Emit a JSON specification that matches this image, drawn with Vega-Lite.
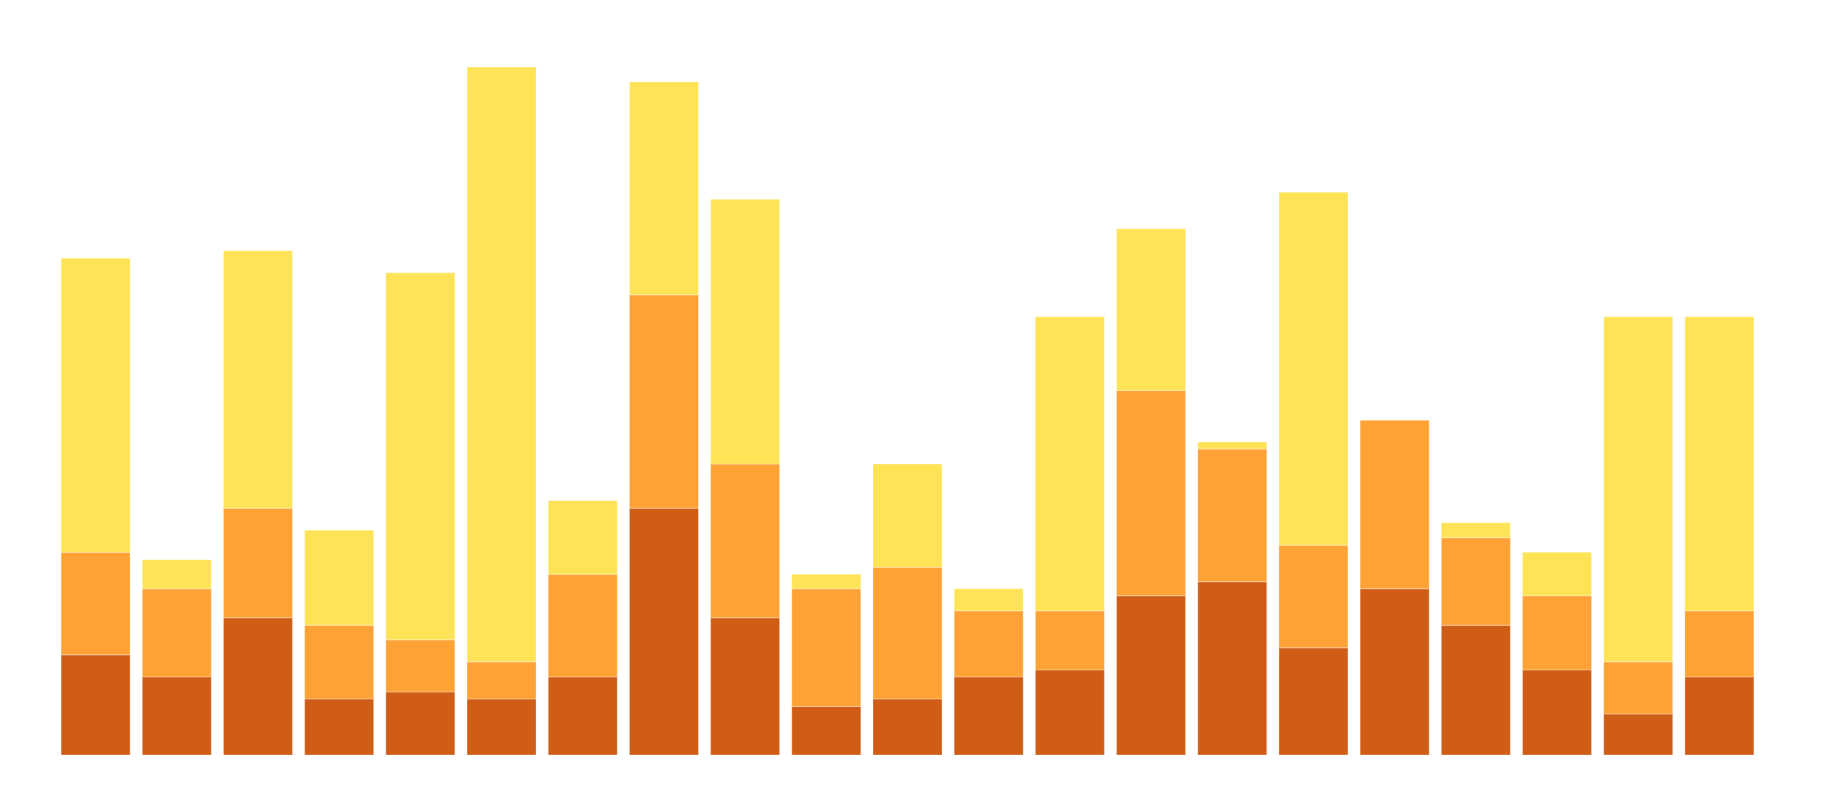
{
  "$schema": "https://vega.github.io/schema/vega-lite/v6.json",
  "width": 1705,
  "height": 700,
  "autosize": {"type": "none"},
  "padding": {"left": 55, "top": 55, "right": 0, "bottom": 0},
  "background": "white",
  "config": {"view": {"stroke": null}},
  "data": {"values": [
    {"bar": 1, "s": "dark", "o": 1, "v": 200}, {"bar": 1, "s": "mid", "o": 2, "v": 205}, {"bar": 1, "s": "light", "o": 3, "v": 587},
    {"bar": 2, "s": "dark", "o": 1, "v": 156}, {"bar": 2, "s": "mid", "o": 2, "v": 176}, {"bar": 2, "s": "light", "o": 3, "v": 58},
    {"bar": 3, "s": "dark", "o": 1, "v": 274}, {"bar": 3, "s": "mid", "o": 2, "v": 219}, {"bar": 3, "s": "light", "o": 3, "v": 514},
    {"bar": 4, "s": "dark", "o": 1, "v": 112}, {"bar": 4, "s": "mid", "o": 2, "v": 147}, {"bar": 4, "s": "light", "o": 3, "v": 190},
    {"bar": 5, "s": "dark", "o": 1, "v": 126}, {"bar": 5, "s": "mid", "o": 2, "v": 104}, {"bar": 5, "s": "light", "o": 3, "v": 733},
    {"bar": 6, "s": "dark", "o": 1, "v": 112}, {"bar": 6, "s": "mid", "o": 2, "v": 74}, {"bar": 6, "s": "light", "o": 3, "v": 1188},
    {"bar": 7, "s": "dark", "o": 1, "v": 156}, {"bar": 7, "s": "mid", "o": 2, "v": 205}, {"bar": 7, "s": "light", "o": 3, "v": 147},
    {"bar": 8, "s": "dark", "o": 1, "v": 493}, {"bar": 8, "s": "mid", "o": 2, "v": 426}, {"bar": 8, "s": "light", "o": 3, "v": 425},
    {"bar": 9, "s": "dark", "o": 1, "v": 274}, {"bar": 9, "s": "mid", "o": 2, "v": 307}, {"bar": 9, "s": "light", "o": 3, "v": 529},
    {"bar": 10, "s": "dark", "o": 1, "v": 97}, {"bar": 10, "s": "mid", "o": 2, "v": 235}, {"bar": 10, "s": "light", "o": 3, "v": 29},
    {"bar": 11, "s": "dark", "o": 1, "v": 112}, {"bar": 11, "s": "mid", "o": 2, "v": 263}, {"bar": 11, "s": "light", "o": 3, "v": 206},
    {"bar": 12, "s": "dark", "o": 1, "v": 156}, {"bar": 12, "s": "mid", "o": 2, "v": 132}, {"bar": 12, "s": "light", "o": 3, "v": 44},
    {"bar": 13, "s": "dark", "o": 1, "v": 170}, {"bar": 13, "s": "mid", "o": 2, "v": 118}, {"bar": 13, "s": "light", "o": 3, "v": 587},
    {"bar": 14, "s": "dark", "o": 1, "v": 318}, {"bar": 14, "s": "mid", "o": 2, "v": 410}, {"bar": 14, "s": "light", "o": 3, "v": 323},
    {"bar": 15, "s": "dark", "o": 1, "v": 346}, {"bar": 15, "s": "mid", "o": 2, "v": 265}, {"bar": 15, "s": "light", "o": 3, "v": 14},
    {"bar": 16, "s": "dark", "o": 1, "v": 214}, {"bar": 16, "s": "mid", "o": 2, "v": 205}, {"bar": 16, "s": "light", "o": 3, "v": 705},
    {"bar": 17, "s": "dark", "o": 1, "v": 332}, {"bar": 17, "s": "mid", "o": 2, "v": 337}, {"bar": 17, "s": "light", "o": 3, "v": 0},
    {"bar": 18, "s": "dark", "o": 1, "v": 259}, {"bar": 18, "s": "mid", "o": 2, "v": 175}, {"bar": 18, "s": "light", "o": 3, "v": 30},
    {"bar": 19, "s": "dark", "o": 1, "v": 170}, {"bar": 19, "s": "mid", "o": 2, "v": 148}, {"bar": 19, "s": "light", "o": 3, "v": 87},
    {"bar": 20, "s": "dark", "o": 1, "v": 82}, {"bar": 20, "s": "mid", "o": 2, "v": 104}, {"bar": 20, "s": "light", "o": 3, "v": 689},
    {"bar": 21, "s": "dark", "o": 1, "v": 156}, {"bar": 21, "s": "mid", "o": 2, "v": 132}, {"bar": 21, "s": "light", "o": 3, "v": 587}
  ]},
  "mark": {"type": "bar", "stroke": "white", "strokeWidth": 0.5, "strokeOpacity": 0.6},
  "encoding": {
    "x": {"field": "bar", "type": "ordinal", "axis": null, "scale": {"paddingInner": 0.15, "paddingOuter": 0.075}},
    "y": {"field": "v", "type": "quantitative", "axis": null, "stack": "zero", "scale": {"domain": [0, 1398], "nice": false}},
    "color": {"field": "s", "type": "nominal", "legend": null, "scale": {"domain": ["dark", "mid", "light"], "range": ["#CF5D16", "#FFA236", "#FFE356"]}},
    "order": {"field": "o", "type": "quantitative"}
  }
}
